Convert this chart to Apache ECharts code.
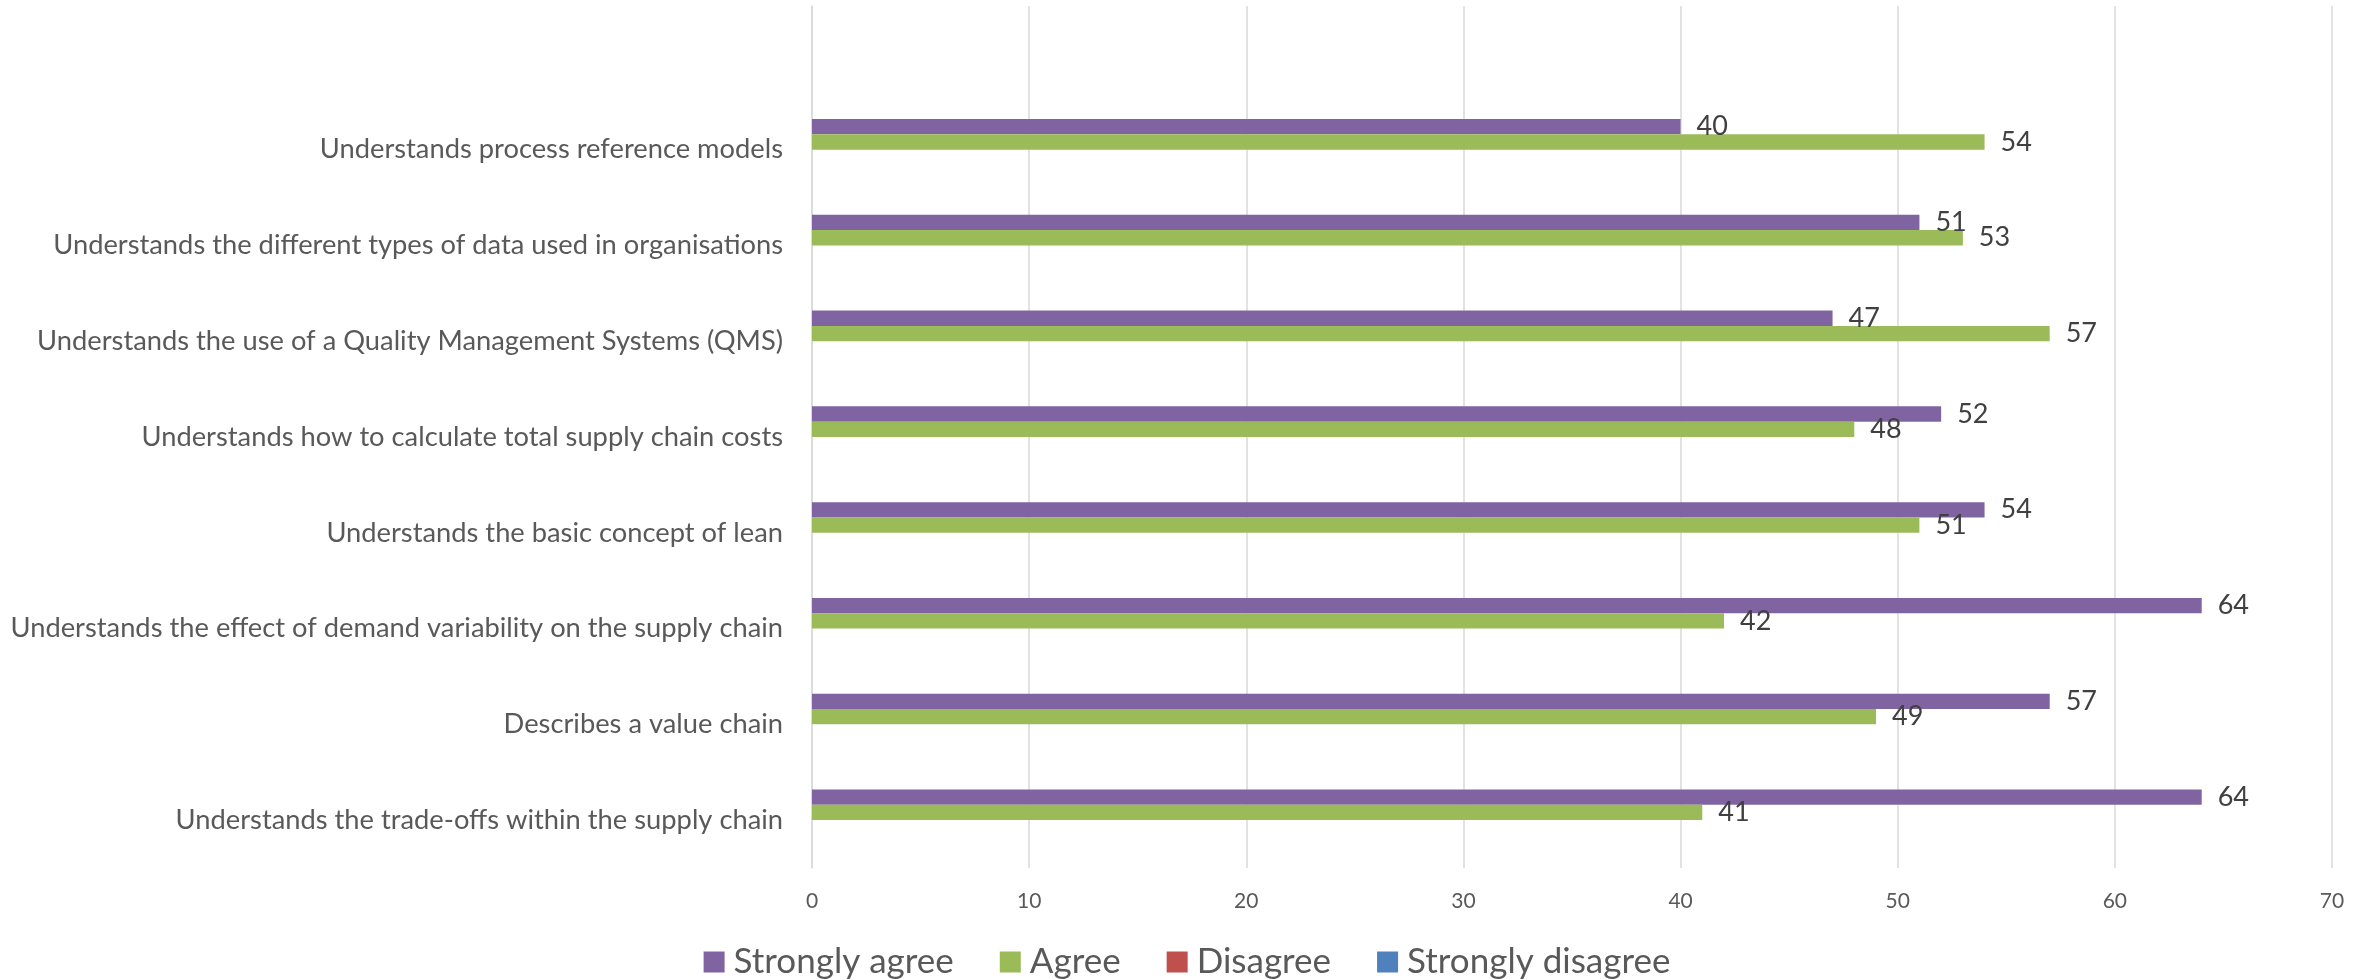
<!DOCTYPE html>
<html>
<head>
<meta charset="utf-8">
<script src="https://cdn.jsdelivr.net/npm/echarts@6/dist/echarts.min.js"></script>
<style>
html,body{margin:0;padding:0;background:#fff;}
#chart{width:2374px;height:979px;}
</style>
</head>
<body>
<div id="chart"></div>
<script>
// Categories listed top to bottom as they appear in the chart
const categories = [
  "Understands process reference models",
  "Understands the different types of data used in organisations",
  "Understands the use of a Quality Management Systems (QMS)",
  "Understands how to calculate total supply chain costs",
  "Understands the basic concept of lean",
  "Understands the effect of demand variability on the supply chain",
  "Describes a value chain",
  "Understands the trade-offs within the supply chain"
];
const seriesNames = ["Strongly agree", "Agree", "Disagree", "Strongly disagree"];
const stronglyAgree = [40, 51, 47, 52, 54, 64, 57, 64];
const agree = [54, 53, 57, 48, 51, 42, 49, 41];
const disagree = [null, null, null, null, null, null, null, null];
const stronglyDisagree = [null, null, null, null, null, null, null, null];
const xTicks = [0, 10, 20, 30, 40, 50, 60, 70];

const colors = ["#8064A2", "#9BBB59", "#C0504D", "#4F81BD"];
const FONT = "Lato, 'Open Sans', sans-serif";

// ECharts draws first category at bottom: reverse, and add an empty top slot
const yCats = categories.slice().reverse().concat([""]);
const rev = a => a.slice().reverse();
const allData = [stronglyAgree, agree, disagree, stronglyDisagree];

const chart = echarts.init(document.getElementById('chart'), null, {renderer: 'canvas'});
chart.setOption({
  animation: false,
  color: colors,
  grid: {left: 812, right: 42, top: 6, bottom: 111, containLabel: false},
  xAxis: {
    type: 'value',
    min: xTicks[0],
    max: xTicks[xTicks.length - 1],
    interval: xTicks[1] - xTicks[0],
    axisLine: {show: false},
    axisTick: {show: false},
    splitLine: {show: true, lineStyle: {color: '#d9d9d9', width: 1.5}},
    axisLabel: {color: '#595959', fontSize: 21, fontFamily: FONT, margin: 23}
  },
  yAxis: {
    type: 'category',
    data: yCats,
    axisLine: {show: true, lineStyle: {color: '#d9d9d9', width: 1.5}},
    axisTick: {show: false},
    splitLine: {show: false},
    axisLabel: {color: '#595959', fontSize: 27.3, fontFamily: FONT, margin: 29}
  },
  legend: {
    data: seriesNames,
    top: 937,
    left: 'center',
    icon: 'rect',
    itemWidth: 21,
    itemHeight: 21,
    itemGap: 46,
    textStyle: {color: '#595959', fontSize: 35, fontFamily: FONT, lineHeight: 40, padding: [0, 0, 0, 4]}
  },
  series: seriesNames.map((name, i) => ({
    name: name,
    type: 'bar',
    data: rev(allData[i]),
    barGap: '0%',
    barCategoryGap: '36%',
    label: {
      show: i < 2,
      position: 'right',
      distance: 16,
      color: '#404040',
      fontSize: 27,
      fontFamily: FONT
    }
  }))
});
</script>
</body>
</html>
